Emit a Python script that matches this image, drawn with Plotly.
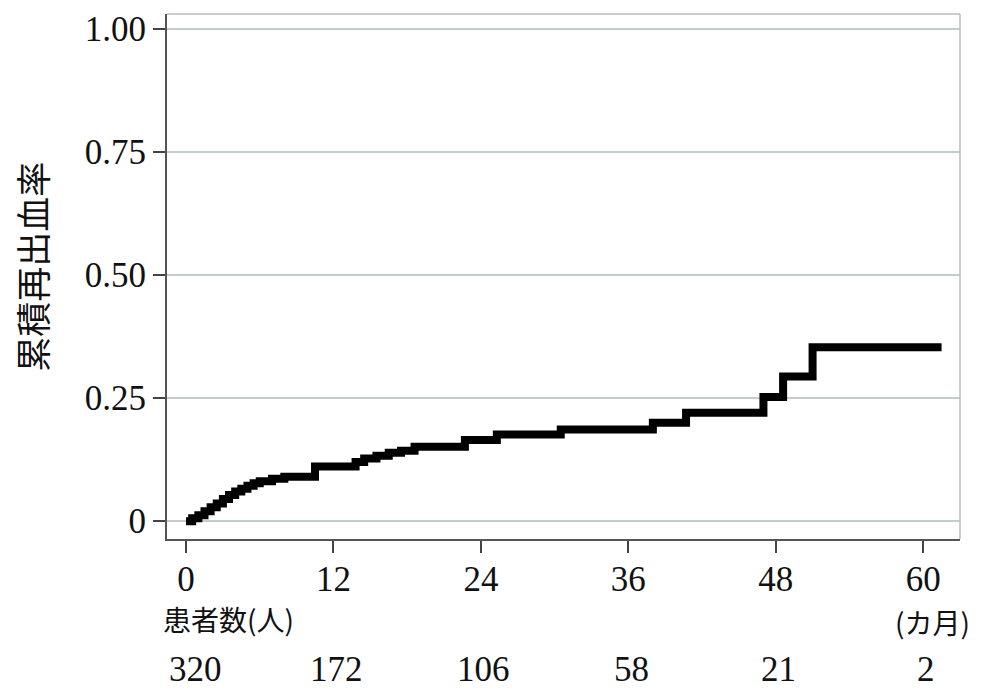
import plotly.graph_objects as go

# Step function: cumulative rebleeding rate (months, rate)
months = [0, 0.5, 1.0, 1.5, 2.0, 2.5, 3.0, 3.5, 4.0, 4.5, 5.0, 5.5, 6.0, 7.0, 8.0,
          10.5, 13.8, 14.5, 15.5, 16.5, 17.5, 18.6, 22.7, 25.3, 30.5, 38.0, 40.7,
          47.0, 48.6, 51.0, 61.5]
rate = [0, 0.006, 0.012, 0.02, 0.028, 0.036, 0.045, 0.053, 0.060, 0.066, 0.072,
        0.077, 0.081, 0.086, 0.090, 0.111, 0.120, 0.127, 0.133, 0.139, 0.143,
        0.151, 0.165, 0.176, 0.186, 0.200, 0.220, 0.252, 0.294, 0.353, 0.353]

x_ticks = [0, 12, 24, 36, 48, 60]
y_ticks = [0, 0.25, 0.5, 0.75, 1.0]
y_tick_text = ["0", "0.25", "0.50", "0.75", "1.00"]
at_risk = [320, 172, 106, 58, 21, 2]

y_title = "累積再出血率"
risk_title = "患者数(人)"
x_unit = "(カ月)"

SERIF = "Liberation Serif, DejaVu Serif, serif"
CJK = "Noto Sans CJK JP"

fig = go.Figure()
fig.add_trace(go.Scatter(
    x=months, y=rate, mode="lines",
    line=dict(color="black", width=8, shape="hv"),
    showlegend=False, hoverinfo="skip",
))

annotations = [
    dict(text=y_title, xref="paper", yref="paper", x=-0.172, y=0.518,
         textangle=-90, showarrow=False, font=dict(family=CJK, size=35, color="#111"),
         xanchor="center", yanchor="middle"),
    dict(text=risk_title, xref="paper", yref="paper", x=-0.007, y=-0.153,
         showarrow=False, font=dict(family=CJK, size=28, color="#111"),
         xanchor="left", yanchor="middle"),
    dict(text=x_unit, xref="paper", yref="paper", x=0.965, y=-0.159,
         showarrow=False, font=dict(family=CJK, size=28, color="#111"),
         xanchor="center", yanchor="middle"),
]
for i, (t, n) in enumerate(zip(x_ticks, at_risk)):
    annotations.append(dict(
        text=str(n), xref="x", yref="paper", x=t, y=-0.248,
        xshift=9 if i == 0 else 3,
        showarrow=False, font=dict(family=SERIF, size=35, color="#111"),
        xanchor="center", yanchor="middle"))

fig.update_layout(
    width=985, height=695,
    margin=dict(l=167, r=25, t=10, b=156),
    paper_bgcolor="white", plot_bgcolor="white",
    annotations=annotations,
    shapes=[
        dict(type="line", xref="paper", yref="paper", x0=0, x1=1, y0=1, y1=1,
             line=dict(color="#b8bcbc", width=1.5)),
        dict(type="line", xref="paper", yref="paper", x0=1, x1=1, y0=0, y1=1,
             line=dict(color="#b8bcbc", width=1.5)),
    ],
)
fig.update_xaxes(
    range=[-1.55, 63.0], tickvals=x_ticks, ticktext=[str(v) for v in x_ticks],
    showgrid=False, zeroline=False, showline=True, linecolor="#555", linewidth=2,
    ticks="outside", ticklen=12, tickwidth=1.5, tickcolor="#444",
    tickfont=dict(family=SERIF, size=35, color="#111"), ticklabelstandoff=-4,
)
fig.update_yaxes(
    range=[-0.0363, 1.0302], tickvals=y_ticks, ticktext=y_tick_text,
    showgrid=True, gridcolor="#c4cccc", gridwidth=1.5, zeroline=False,
    showline=True, linecolor="#555", linewidth=2,
    ticks="outside", ticklen=12, tickwidth=1.5, tickcolor="#444",
    tickfont=dict(family=SERIF, size=35, color="#111"),
)

fig.write_html("out.html")
